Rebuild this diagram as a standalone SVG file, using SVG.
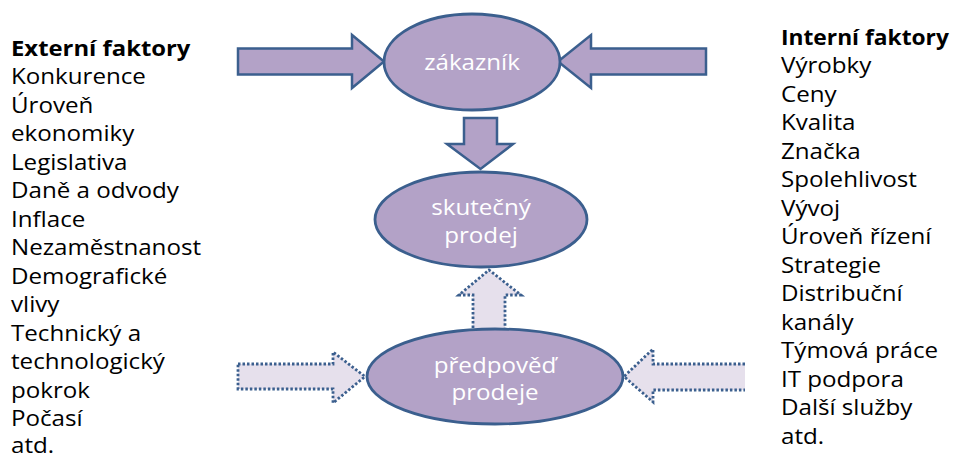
<svg xmlns="http://www.w3.org/2000/svg" width="957" height="457" viewBox="0 0 957 457">
<style>
.solid{fill:#B3A2C7;stroke:#3B5F8E;stroke-width:2.5;stroke-linejoin:miter}
.dot{fill:#E6E0EC;stroke:#3B5F8E;stroke-width:2.8;stroke-dasharray:2.5 2}
.node{fill:#B3A2C7;stroke:#3B5F8E;stroke-width:2.8}
.lbl{font-family:"Open Sans","Noto Sans",sans-serif;font-size:21px;fill:#FFFFFF;text-anchor:middle}
.col{font-family:"Open Sans","Noto Sans",sans-serif;font-size:21px;fill:#000000}
.b{font-weight:bold}
</style>
<rect width="957" height="457" fill="#FFFFFF"/>
<g id="connectors">
<path class="solid" d="M238,48.5 H352 V35 L384,61.5 L352,88 V74.5 H238 Z"/>
<path class="solid" d="M706,48.5 H591 V35 L558,61.5 L591,88 V74.5 H706 Z"/>
<path class="solid" d="M464,118 H497 V144 H513 L480.5,169 L447,144 H464 Z"/>
<path class="dot" d="M473,328 V295 H459 L489,270 L521,295 H505 V328"/>
<path class="dot" d="M238,364 H333 V352 L365,376.5 L333,403 V389 H238 Z"/>
<path class="dot" d="M745,364 H653 V349 L624,376.5 L653,402 V390 H745"/>
</g>
<g id="node-zakaznik">
<ellipse class="node" cx="472" cy="62" rx="88" ry="48"/>
<text class="lbl" transform="translate(472,0) scale(1.15,1)" x="0" y="70">zákazník</text>
</g>
<g id="node-skutecny">
<ellipse class="node" cx="481" cy="219.5" rx="106" ry="47.5"/>
<text class="lbl" transform="translate(481,0) scale(1.15,1)" x="0" y="215">skutečný</text>
<text class="lbl" transform="translate(481,0) scale(1.15,1)" x="0" y="243">prodej</text>
</g>
<g id="node-predpoved">
<ellipse class="node" cx="495" cy="376.5" rx="128" ry="47.5"/>
<text class="lbl" transform="translate(495,0) scale(1.15,1)" x="0" y="373">předpověď</text>
<text class="lbl" transform="translate(495,0) scale(1.15,1)" x="0" y="400">prodeje</text>
</g>
<g id="node-externi" transform="translate(11,0) scale(1.15,1)">
<text class="col b" x="0" y="56" textLength="156" lengthAdjust="spacingAndGlyphs">Externí faktory</text>
<text class="col" x="0" y="84.5">Konkurence</text>
<text class="col" x="0" y="113">Úroveň</text>
<text class="col" x="0" y="141.5">ekonomiky</text>
<text class="col" x="0" y="170">Legislativa</text>
<text class="col" x="0" y="198.5">Daně a odvody</text>
<text class="col" x="0" y="227">Inflace</text>
<text class="col" x="0" y="255.5">Nezaměstnanost</text>
<text class="col" x="0" y="284">Demografické</text>
<text class="col" x="0" y="312.5">vlivy</text>
<text class="col" x="0" y="341">Technický a</text>
<text class="col" x="0" y="369.5">technologický</text>
<text class="col" x="0" y="398">pokrok</text>
<text class="col" x="0" y="426.5">Počasí</text>
<text class="col" x="0" y="453">atd.</text>
</g>
<g id="node-interni" transform="translate(781,0) scale(1.15,1)">
<text class="col b" x="0" y="45" textLength="146" lengthAdjust="spacingAndGlyphs">Interní faktory</text>
<text class="col" x="0" y="73.5">Výrobky</text>
<text class="col" x="0" y="102">Ceny</text>
<text class="col" x="0" y="130.5">Kvalita</text>
<text class="col" x="0" y="159">Značka</text>
<text class="col" x="0" y="187.5">Spolehlivost</text>
<text class="col" x="0" y="216">Vývoj</text>
<text class="col" x="0" y="244.5">Úroveň řízení</text>
<text class="col" x="0" y="273">Strategie</text>
<text class="col" x="0" y="301.5">Distribuční</text>
<text class="col" x="0" y="330">kanály</text>
<text class="col" x="0" y="358.5">Týmová práce</text>
<text class="col" x="0" y="387">IT podpora</text>
<text class="col" x="0" y="415.5">Další služby</text>
<text class="col" x="0" y="444">atd.</text>
</g>
</svg>
